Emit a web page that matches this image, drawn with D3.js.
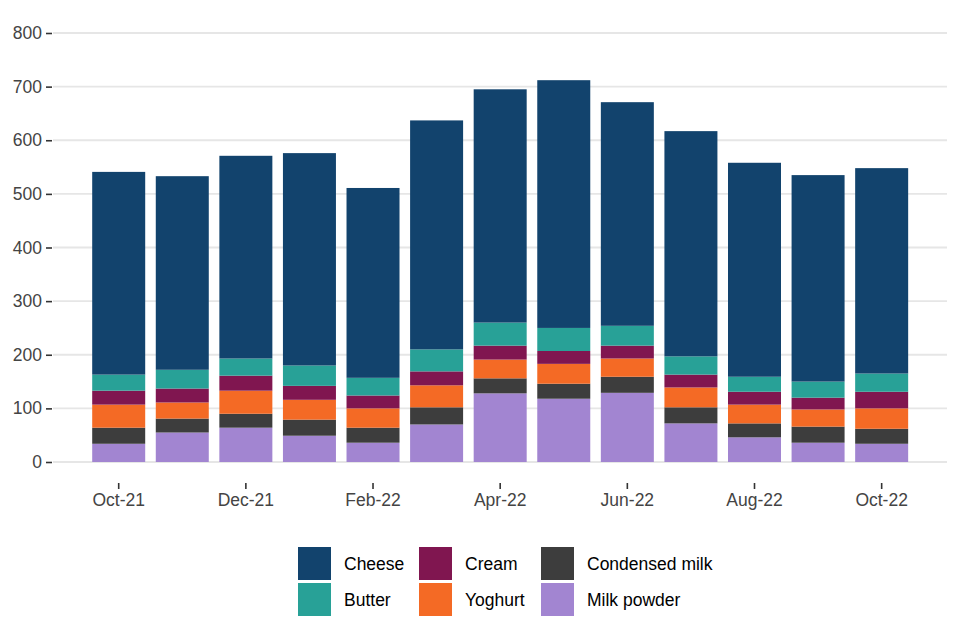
<!DOCTYPE html>
<html>
<head>
<meta charset="utf-8">
<script src="https://cdn.jsdelivr.net/npm/d3@7"></script>
<style>
  body { margin: 0; background: #fff; }
  svg { display: block; font-family: "Liberation Sans", Arial, sans-serif; }
</style>
</head>
<body>
<svg id="chart" width="960" height="640"></svg>
<script>
// months on the x axis
var months = ["Oct-21", "Nov-21", "Dec-21", "Jan-22", "Feb-22", "Mar-22", "Apr-22",
  "May-22", "Jun-22", "Jul-22", "Aug-22", "Sep-22", "Oct-22"];
var tickMonths = ["Oct-21", "Dec-21", "Feb-22", "Apr-22", "Jun-22", "Aug-22", "Oct-22"];
var yTicks = [0, 100, 200, 300, 400, 500, 600, 700, 800];

// series, stacked bottom to top
var milkPowder = [34, 55, 64, 49, 36, 70, 128, 118, 129, 72, 46, 36, 34];
var condensedMilk = [30, 26, 26, 30, 28, 32, 28, 28, 30, 30, 26, 30, 28];
var yoghurt = [43, 30, 43, 37, 36, 41, 35, 37, 34, 37, 35, 32, 38];
var cream = [26, 26, 28, 26, 24, 26, 26, 24, 24, 24, 24, 22, 31];
var butter = [30, 35, 32, 38, 33, 41, 43, 43, 37, 34, 28, 30, 34];
var cheese = [378, 361, 378, 396, 354, 427, 435, 462, 417, 420, 399, 385, 383];

var seriesNames = ["Milk powder", "Condensed milk", "Yoghurt", "Cream", "Butter", "Cheese"];
var seriesValues = [milkPowder, condensedMilk, yoghurt, cream, butter, cheese];
var colours = {
  "Cheese": "#12436D",
  "Butter": "#28A197",
  "Cream": "#801650",
  "Yoghurt": "#F46A25",
  "Condensed milk": "#3D3D3D",
  "Milk powder": "#A285D1"
};
var legendOrder = ["Cheese", "Butter", "Cream", "Yoghurt", "Condensed milk", "Milk powder"];

var rows = months.map(function (m, i) {
  var r = { month: m };
  seriesNames.forEach(function (s, j) { r[s] = seriesValues[j][i]; });
  return r;
});

var svg = d3.select("#chart");
var step = 63.58, first = 118.7;
var inner = 1 - 53 / step;
var fontSize = "17.5px";

var x = d3.scaleBand()
  .domain(months)
  .range([first - step / 2, first + step * 12.5])
  .paddingInner(inner)
  .paddingOuter(inner / 2);

var y = d3.scaleLinear().domain([0, 800]).range([462, 33]);

// grid
svg.append("g").selectAll("line")
  .data(yTicks)
  .enter().append("line")
  .attr("x1", 53).attr("x2", 947)
  .attr("y1", d => y(d)).attr("y2", d => y(d))
  .attr("stroke", "#e6e6e6")
  .attr("stroke-width", 1.8);

// bars
var stack = d3.stack().keys(seriesNames)(rows);
svg.append("g").selectAll("g")
  .data(stack)
  .enter().append("g")
  .attr("fill", d => colours[d.key])
  .selectAll("rect")
  .data(d => d)
  .enter().append("rect")
  .attr("x", d => x(d.data.month))
  .attr("width", x.bandwidth())
  .attr("y", d => y(d[1]))
  .attr("height", d => y(d[0]) - y(d[1]));

// y axis
var yAxis = svg.append("g")
  .attr("transform", "translate(52,0)")
  .call(d3.axisLeft(y).tickValues(yTicks).tickSize(6).tickPadding(4));
yAxis.select(".domain").remove();
yAxis.selectAll(".tick line").attr("stroke", "#333").attr("stroke-width", 1.6);
yAxis.selectAll("text")
  .attr("fill", "#444")
  .style("font-size", fontSize)
  .style("font-family", "Liberation Sans, Arial, sans-serif");

// x axis
var xAxis = svg.append("g")
  .attr("transform", "translate(0,483)")
  .call(d3.axisBottom(x).tickValues(tickMonths).tickSize(6).tickSizeOuter(0).tickPadding(5));
xAxis.select(".domain").remove();
xAxis.selectAll(".tick line").attr("stroke", "#333").attr("stroke-width", 1.6);
xAxis.selectAll("text")
  .attr("fill", "#444")
  .style("font-size", fontSize)
  .style("font-family", "Liberation Sans, Arial, sans-serif");

// legend
var legend = svg.append("g").attr("transform", "translate(298,547)");
var colX = [0, 121, 243];
legendOrder.forEach(function (name, i) {
  var col = Math.floor(i / 2), row = i % 2;
  var g = legend.append("g")
    .attr("transform", "translate(" + colX[col] + "," + (row * 36) + ")");
  g.append("rect")
    .attr("width", 33).attr("height", 33)
    .attr("fill", colours[name]);
  g.append("text")
    .attr("x", 46).attr("y", 17)
    .attr("dy", "0.35em")
    .attr("fill", "#000")
    .style("font-size", fontSize)
    .text(name);
});
</script>
</body>
</html>
